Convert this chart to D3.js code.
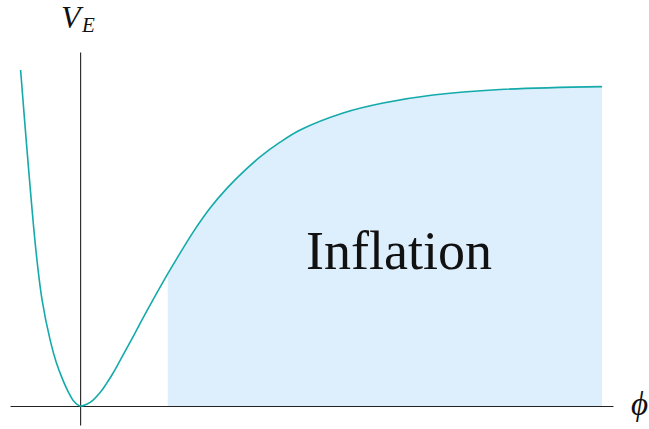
<!DOCTYPE html>
<html>
<head>
<meta charset="utf-8">
<script src="https://cdn.jsdelivr.net/npm/d3@7"></script>
<style>
  body { margin: 0; background: #fff; }
  svg { display: block; }
</style>
</head>
<body>
<script>
// curve points (phi, V)
const phiValues = [-0.849, -0.742, -0.628, -0.542, -0.428, -0.342, -0.257, -0.171, -0.086, 0,
                   0.100, 0.185, 0.285, 0.371, 0.471, 0.571, 0.713, 0.956, 1.255, 1.383,
                   1.612, 1.854, 2.096, 2.353, 2.567, 2.852, 3.138, 3.751, 4.321, 5.034,
                   5.990, 7.444];
const vValues = [1.047, 0.757, 0.480, 0.330, 0.206, 0.137, 0.087, 0.045, 0.014, 0,
                 0.0062, 0.0187, 0.042, 0.0685, 0.103, 0.142, 0.199, 0.298, 0.414, 0.461,
                 0.542, 0.617, 0.679, 0.735, 0.776, 0.822, 0.860, 0.913, 0.944, 0.969,
                 0.986, 0.995];
// shaded inflation region along phi
const inflationRange = [1.25, 7.444];
const regionLabel = "Inflation";

const width = 649, height = 429;
const points = phiValues.map((p, i) => ({phi: p, v: vValues[i]}));

const svg = d3.select("body").append("svg")
  .attr("width", width)
  .attr("height", height);

const x = d3.scaleLinear().domain([-1.0, 7.6]).range([10, 613]);
const y = d3.scaleLinear().domain([-0.059, 1.103]).range([425, 52]);
const smooth = d3.curveCatmullRom.alpha(0.5);

// shaded area, clipped to the inflation range
svg.append("clipPath").attr("id", "infl")
  .append("rect")
  .attr("x", x(inflationRange[0]))
  .attr("y", 0)
  .attr("width", x(inflationRange[1]) - x(inflationRange[0]))
  .attr("height", height);

const area = d3.area()
  .x(d => x(d.phi))
  .y0(y(0))
  .y1(d => y(d.v))
  .curve(smooth);

svg.append("path")
  .datum(points)
  .attr("d", area)
  .attr("clip-path", "url(#infl)")
  .style("fill", "#ddeefd");

// axes without ticks
svg.append("g")
  .attr("transform", `translate(0,${y(0)})`)
  .call(d3.axisBottom(x).tickValues([]).tickSizeOuter(0))
  .select(".domain").attr("stroke", "#222").attr("stroke-width", 1.1);

svg.append("g")
  .attr("transform", `translate(${x(0)},0)`)
  .call(d3.axisLeft(y).tickValues([]).tickSizeOuter(0))
  .select(".domain").attr("stroke", "#222").attr("stroke-width", 1.1);

// potential curve
const line = d3.line()
  .x(d => x(d.phi))
  .y(d => y(d.v))
  .curve(smooth);

svg.append("path")
  .datum(points)
  .attr("d", line)
  .style("fill", "none")
  .style("stroke", "#14aaaa")
  .style("stroke-width", 1.6);

// labels
const serif = "'Liberation Serif', 'DejaVu Serif', serif";

svg.append("text")
  .attr("x", 306)
  .attr("y", 269)
  .style("font-family", serif)
  .style("font-size", "54px")
  .style("fill", "#111")
  .text(regionLabel);

svg.append("text")
  .attr("x", 61)
  .attr("y", 28)
  .style("font-family", serif)
  .style("font-style", "italic")
  .style("font-size", "32px")
  .style("fill", "#111")
  .text("V");

svg.append("text")
  .attr("x", 82)
  .attr("y", 32)
  .style("font-family", serif)
  .style("font-style", "italic")
  .style("font-size", "21px")
  .style("fill", "#111")
  .text("E");

svg.append("text")
  .attr("x", 631)
  .attr("y", 415)
  .style("font-family", serif)
  .style("font-style", "italic")
  .style("font-size", "33px")
  .style("fill", "#111")
  .text("\u03D5");
</script>
</body>
</html>
